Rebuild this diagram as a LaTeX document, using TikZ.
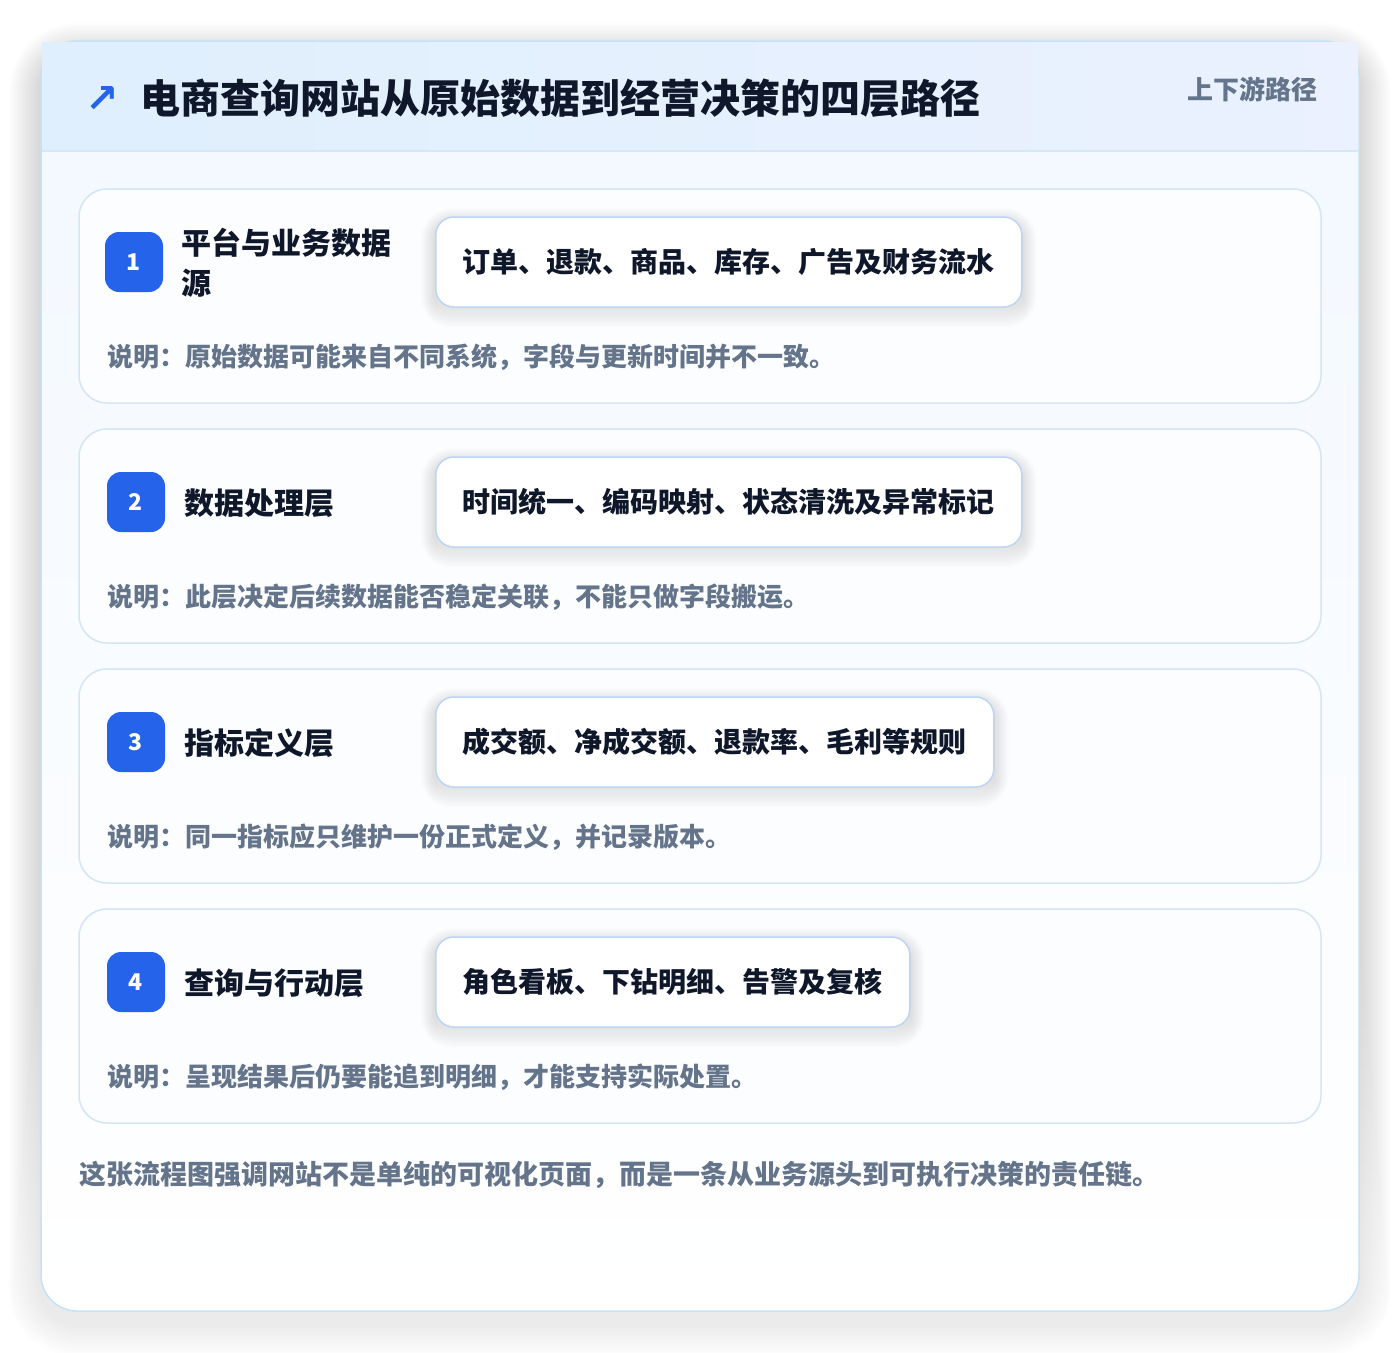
\documentclass[tikz,border=0pt]{standalone}
\usepackage{fontspec}
\setmainfont{Noto Sans CJK SC}
\newfontfamily\symfont{DejaVu Sans}
\definecolor{pagebg}{HTML}{FFFFFF}
\definecolor{outerline}{HTML}{C4E2F7}
\definecolor{headL}{HTML}{DFEFFD}
\definecolor{headR}{HTML}{EBF1FE}
\definecolor{headline}{HTML}{D5E7F8}
\definecolor{bodyTop}{HTML}{F2F8FF}
\definecolor{bodyBot}{HTML}{FFFFFF}
\definecolor{cardline}{HTML}{D3E5F6}
\definecolor{cardfill}{HTML}{FCFDFF}
\definecolor{pillline}{HTML}{BCD5F3}
\definecolor{badge}{HTML}{2563EB}
\definecolor{ink}{HTML}{0F172A}
\definecolor{muted}{HTML}{64748B}
\definecolor{shade}{HTML}{1E293B}
\tikzset{
  outercard/.style={draw=outerline, line width=1.5pt, rounded corners=36pt, top color=bodyTop, bottom color=bodyBot},
  card/.style={draw=cardline, line width=1.5pt, rounded corners=28pt, fill=cardfill},
  pill/.style={draw=pillline, line width=1.5pt, rounded corners=18pt, fill=white, anchor=west, inner xsep=27pt, minimum height=90pt,
    font=\fontsize{28}{32}\selectfont\bfseries, text=ink},
  badgebox/.style={fill=badge, rounded corners=14pt, minimum width=58pt, minimum height=60pt, inner sep=0pt,
    text=white, font=\fontsize{23}{26}\selectfont\bfseries},
  cardtitle/.style={anchor=west, inner sep=0pt, text=ink, font=\fontsize{30}{40}\selectfont\bfseries, align=left},
  desc/.style={anchor=west, inner sep=0pt, text=muted, font=\fontsize{26}{30}\selectfont\bfseries},
}
\newcommand{\pillshadow}[1]{%
  \foreach \k in {1,...,10}{
    \fill[shade, opacity=0.006, rounded corners=18pt+\k*1.4pt]
      ([xshift=-\k*1.4pt, yshift=-6pt-\k*1.4pt]#1.south west) rectangle ([xshift=\k*1.4pt, yshift=-6pt+\k*1.4pt]#1.north east);
  }%
}
\begin{document}
\begin{tikzpicture}[x=1pt,y=-1pt]
\useasboundingbox (0,0) rectangle (1400,1352);
\fill[pagebg] (0,0) rectangle (1400,1352);
% outer card shadow
\foreach \k in {1,...,20}{
  \fill[shade, opacity=0.0045, rounded corners=36pt+\k*1.6pt]
    (41-\k*1.6,41+14-\k*1.6) rectangle (1359+\k*1.6,1311+14+\k*1.6);
}
% outer card
\path[outercard] (41,41) rectangle (1359,1311);
% header
\shade[left color=headL, right color=headR] (42,42) rectangle (1358,151);
\draw[headline, line width=1.5pt] (42,151) -- (1358,151);
\node[anchor=center, inner sep=0pt, text=badge, font=\symfont\fontsize{40}{44}\selectfont\bfseries] (arrowicon) at (102,99) {↗};
\node[anchor=west, inner sep=0pt, text=ink, font=\fontsize{40}{46}\selectfont\bfseries] (title) at (140,98) {电商查询网站从原始数据到经营决策的四层路径};
\node[anchor=east, inner sep=0pt, text=muted, font=\fontsize{26}{30}\selectfont\bfseries] (tag) at (1318,89) {上下游路径};
% cards
\foreach \i/\top in {1/189,2/429,3/669,4/909}{
  \path[card] (79,\top) rectangle (1321,\top+214);
}
% card 1
\node[badgebox] (b1) at (134,262) {1};
\node[cardtitle] (t1) at (181,263) {平台与业务数据\\源};
\path node[pill, fill=none, draw=none, text opacity=0] (p1g) at (435,262) {订单、退款、商品、库存、广告及财务流水};
\pillshadow{p1g}
\node[pill] (p1) at (435,262) {订单、退款、商品、库存、广告及财务流水};
\node[desc] (d1) at (107,357) {说明：原始数据可能来自不同系统，字段与更新时间并不一致。};
% card 2
\node[badgebox] (b2) at (136,502) {2};
\node[cardtitle] (t2) at (184,503) {数据处理层};
\path node[pill, fill=none, draw=none, text opacity=0] (p2g) at (435,502) {时间统一、编码映射、状态清洗及异常标记};
\pillshadow{p2g}
\node[pill] (p2) at (435,502) {时间统一、编码映射、状态清洗及异常标记};
\node[desc] (d2) at (107,597) {说明：此层决定后续数据能否稳定关联，不能只做字段搬运。};
% card 3
\node[badgebox] (b3) at (136,742) {3};
\node[cardtitle] (t3) at (184,743) {指标定义层};
\path node[pill, fill=none, draw=none, text opacity=0] (p3g) at (435,742) {成交额、净成交额、退款率、毛利等规则};
\pillshadow{p3g}
\node[pill] (p3) at (435,742) {成交额、净成交额、退款率、毛利等规则};
\node[desc] (d3) at (107,837) {说明：同一指标应只维护一份正式定义，并记录版本。};
% card 4
\node[badgebox] (b4) at (136,982) {4};
\node[cardtitle] (t4) at (184,983) {查询与行动层};
\path node[pill, fill=none, draw=none, text opacity=0] (p4g) at (435,982) {角色看板、下钻明细、告警及复核};
\pillshadow{p4g}
\node[pill] (p4) at (435,982) {角色看板、下钻明细、告警及复核};
\node[desc] (d4) at (107,1077) {说明：呈现结果后仍要能追到明细，才能支持实际处置。};
% footer
\node[anchor=west, inner sep=0pt, text=muted, font=\fontsize{27}{32}\selectfont\bfseries] (foot) at (79,1175) {这张流程图强调网站不是单纯的可视化页面，而是一条从业务源头到可执行决策的责任链。};
\end{tikzpicture}
\end{document}
